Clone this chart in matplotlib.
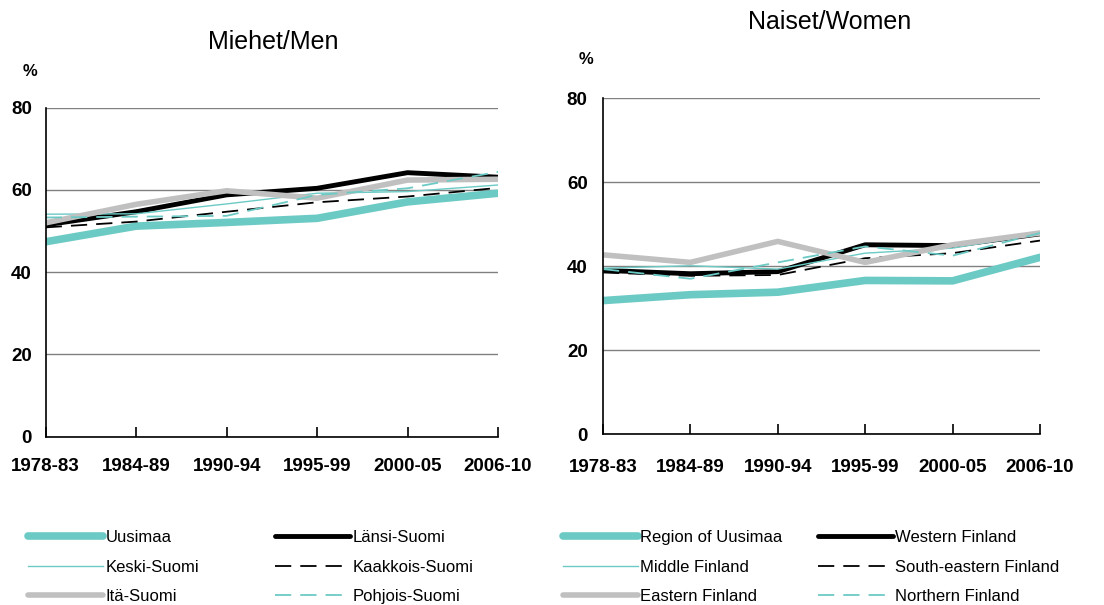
import numpy as np
import matplotlib
matplotlib.use("Agg")
from matplotlib import pyplot as plt

plt.rcParams['font.family'] = ['Liberation Sans', 'DejaVu Sans']

periods = ["1978-83", "1984-89", "1990-94", "1995-99", "2000-05", "2006-10"]

# Miehet / Men
men_uusimaa = [47.4, 51.2, 52.1, 53.1, 57.1, 59.2]
men_lansi = [51.5, 54.7, 58.8, 60.4, 64.2, 63.1]
men_keski = [54.1, 54.2, 56.6, 59.2, 59.6, 61.2]
men_kaakkois = [50.9, 52.3, 54.7, 57.0, 58.4, 60.5]
men_ita = [52.0, 56.5, 59.8, 58.0, 62.4, 62.6]
men_pohjois = [53.3, 53.5, 53.7, 58.8, 60.4, 64.4]

# Naiset / Women
women_uusimaa = [31.8, 33.2, 33.8, 36.6, 36.5, 42.1]
women_lansi = [39.0, 38.2, 38.7, 45.1, 44.9, 47.7]
women_keski = [39.5, 40.1, 39.3, 43.1, 44.3, 47.7]
women_kaakkois = [38.5, 37.7, 37.9, 41.9, 43.1, 46.1]
women_ita = [42.7, 40.9, 45.9, 40.9, 45.1, 47.9]
women_pohjois = [39.3, 37.0, 40.9, 44.7, 42.5, 47.9]

labels_fi = ["Uusimaa", "Länsi-Suomi", "Keski-Suomi", "Kaakkois-Suomi", "Itä-Suomi", "Pohjois-Suomi"]
labels_en = ["Region of Uusimaa", "Western Finland", "Middle Finland",
             "South-eastern Finland", "Eastern Finland", "Northern Finland"]

teal = "#6ccac5"
gray = "#c0c0c0"
styles = [
    dict(color=teal, lw=5.5, ls="-", solid_capstyle="round"),
    dict(color="black", lw=3.5, ls="-", solid_capstyle="round"),
    dict(color=teal, lw=1.0, ls="-"),
    dict(color="black", lw=1.3, ls=(0, (9, 5))),
    dict(color=gray, lw=4.0, ls="-", solid_capstyle="round"),
    dict(color=teal, lw=1.3, ls=(0, (9, 5))),
]

W, H = 1104, 605


def draw(ax, series, labels, ypad, xpad, leg_left, colsp):
    x = np.arange(len(periods))
    handles = []
    for vals, lab, st in zip(series, labels, styles):
        h, = ax.plot(x, vals, label=lab, **st)
        handles.append(h)
    ax.set_xlim(0, len(periods) - 1)
    ax.set_ylim(0, 80)
    ax.set_yticks([0, 20, 40, 60, 80])
    ax.set_xticks(x)
    ax.set_xticklabels(periods, fontweight="bold", fontsize=13.5)
    for t in ax.get_yticklabels():
        t.set_fontweight("bold")
        t.set_fontsize(13.5)
    ax.tick_params(axis="y", length=0, pad=ypad)
    ax.tick_params(axis="x", direction="in", length=7, width=1.2, pad=xpad)
    ax.grid(axis="y", color="#808080", lw=1.0)
    ax.set_axisbelow(True)
    for s in ["top", "right"]:
        ax.spines[s].set_visible(False)
    ax.spines["left"].set_linewidth(1.2)
    ax.spines["bottom"].set_linewidth(1.2)
    # legend is filled row by row in the reference
    order = [0, 2, 4, 1, 3, 5]
    fig.legend([handles[i] for i in order], [labels[i] for i in order],
               loc="upper left", bbox_to_anchor=(leg_left / W, 1 - 530 / H),
               ncol=2, frameon=False, fontsize=12, handlelength=4.5,
               handletextpad=0.15, columnspacing=colsp, labelspacing=0.87,
               borderpad=0, borderaxespad=0)


fig = plt.figure(figsize=(11.04, 6.05), dpi=100)
ax1 = fig.add_axes([0.0414, 0.2782, 0.4097, 0.5438])
ax2 = fig.add_axes([0.5462, 0.2826, 0.3958, 0.5549])

draw(ax1, [men_uusimaa, men_lansi, men_keski, men_kaakkois, men_ita, men_pohjois],
     labels_fi, 10, 15, 28, 4.55)
draw(ax2, [women_uusimaa, women_lansi, women_keski, women_kaakkois, women_ita, women_pohjois],
     labels_en, 11, 18, 563, 2.1)

fig.text(273 / W, 1 - 42 / H, "Miehet/Men", fontsize=18, ha="center", va="center")
fig.text(830 / W, 1 - 22 / H, "Naiset/Women", fontsize=18, ha="center", va="center")
fig.text(30 / W, 1 - 71 / H, "%", fontsize=12, fontweight="bold", ha="center", va="center")
fig.text(586 / W, 1 - 60 / H, "%", fontsize=12, fontweight="bold", ha="center", va="center")

fig.savefig("out.png", dpi=100)
